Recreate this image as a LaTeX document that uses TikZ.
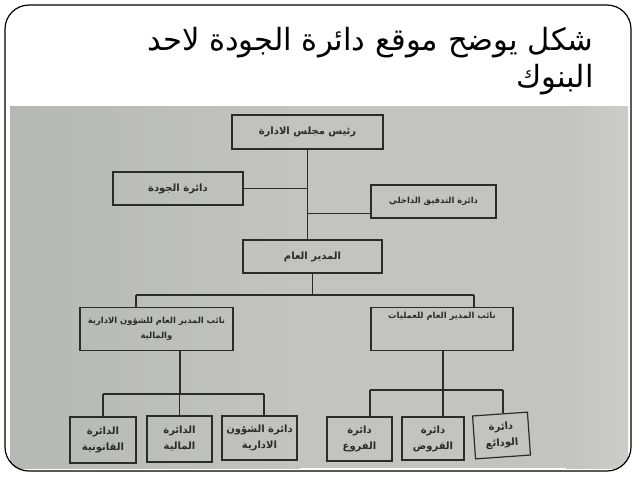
\documentclass[tikz,border=0pt]{standalone}
\usepackage{fontspec}
\setmainfont{DejaVu Sans}
\newfontfamily\arabicfont[Script=Arabic]{DejaVu Sans}
\TeXXeTstate=1
\definecolor{paper}{HTML}{C3C4C0}
\definecolor{paperlight}{HTML}{CCCDC9}
\definecolor{paperdark}{HTML}{B6B8B4}
\definecolor{ink}{HTML}{2B2B2B}
\tikzset{
	orgbox/.style={draw=ink, line width=0.6pt, inner sep=1pt, align=center,
		font=\arabicfont\bfseries\fontsize{5}{8}\selectfont, text=ink},
	smalltext/.style={font=\arabicfont\bfseries\fontsize{4.2}{7.5}\selectfont},
	orgline/.style={draw=ink, line width=0.6pt},
}
\newcommand{\ar}[1]{\beginR #1\endR}

\begin{document}
\begin{tikzpicture}[x=0.5pt, y=-0.5pt]
	%%%%% FRAME AND PHOTO %%%%%
	\useasboundingbox (0,0) rectangle (638,479);
	\fill[white] (0,0) rectangle (638,479);
	
	\begin{scope}
		\clip[rounded corners=12pt] (5,5) rectangle (631,471);
		\shade[left color=paperdark, right color=paper] (10,106) rectangle (300,468);
		\fill[paper] (299,106) rectangle (566,468);
		\shade[left color=paper, right color=paperlight] (566,106) rectangle (628,468);
	\end{scope}
	\draw[line width=0.6pt, rounded corners=12pt] (5,5) rectangle (631,471);
	
	%%%%% TITLE %%%%%
	\node[anchor=north east, align=right, inner sep=0pt,
		font=\arabicfont\fontsize{15.3}{18.2}\selectfont] (title) at (594,27)
		{\ar{شكل يوضح موقع دائرة الجودة لاحد}\\\ar{البنوك}};
	
	%%%%% BOXES %%%%%
	\node[orgbox, minimum width=75.5pt, minimum height=17pt] (board) at (307.5,132) {\ar{رئيس مجلس الادارة}};
	\node[orgbox, minimum width=65pt, minimum height=16.5pt] (quality) at (178,188.5) {\ar{دائرة الجودة}};
	\node[orgbox, smalltext, minimum width=62.5pt, minimum height=16.5pt] (audit) at (433.5,201.5) {\ar{دائرة التدقيق الداخلي}};
	\node[orgbox, minimum width=69.5pt, minimum height=16.5pt] (gm) at (312.5,256.5) {\ar{المدير العام}};
	
	\node[orgbox, smalltext, minimum width=76.5pt, minimum height=21.5pt, anchor=north] (depadmin) at (156.5,307)
		{\ar{نائب المدير العام للشؤون الادارية}\\\ar{والمالية}};
	\node[orgbox, smalltext, minimum width=71pt, minimum height=21.5pt, anchor=north] (depops) at (442,307)
		{\ar{نائب المدير العام للعمليات}\\[6pt]};
	
	\node[orgbox, minimum width=33pt, minimum height=23pt] (legal) at (103,440) {\ar{الدائرة}\\\ar{القانونية}};
	\node[orgbox, minimum width=32.5pt, minimum height=23pt] (finance) at (179.5,439) {\ar{الدائرة}\\\ar{المالية}};
	\node[orgbox, minimum width=37.5pt, minimum height=22pt] (adminaff) at (259.5,438) {\ar{دائرة الشؤون}\\\ar{الادارية}};
	\node[orgbox, minimum width=32.5pt, minimum height=22pt] (branches) at (359.5,439) {\ar{دائرة}\\\ar{الفروع}};
	\node[orgbox, minimum width=31pt, minimum height=21.5pt] (loans) at (433,438.5) {\ar{دائرة}\\\ar{القروض}};
	\node[orgbox, minimum width=27.5pt, minimum height=21.5pt, rotate=4] (deposits) at (501.5,435.5) {\ar{دائرة}\\\ar{الودائع}};
	
	%%%%% CONNECTORS %%%%%
	\coordinate (busL) at (136,295);
	\coordinate (busR) at (474,295);
	\coordinate (dropL) at (180,394);
	\coordinate (dropR) at (443,390);
	\coordinate (legtap) at (103,394);
	\coordinate (afftap) at (264,394);
	\coordinate (brtap) at (370,390);
	\coordinate (deptap) at (503,390);
	
	\draw[orgline] (board.south) -- (board.south |- gm.north);
	\draw[orgline] (quality.east) -- (quality.east -| board.south);
	\draw[orgline] ([yshift=2.5pt]audit.south west) -- ([yshift=2.5pt]audit.south west -| board.south);
	
	\draw[orgline] (gm.south) -- (gm.south |- busL);
	\draw[orgline] (busL) -- (busR);
	\draw[orgline] (busL) -- (busL |- depadmin.north);
	\draw[orgline] (busR) -- (busR |- depops.north);
	
	\draw[orgline] (dropL |- depadmin.south) -- (dropL);
	\draw[orgline] (legtap) -- (afftap);
	\draw[orgline] (legtap) -- (legal.north);
	\draw[orgline] (finance.north |- dropL) -- (finance.north);
	\draw[orgline] (afftap) -- (afftap |- adminaff.north);
	
	\draw[orgline] (dropR |- depops.south) -- (dropR);
	\draw[orgline] (brtap) -- (deptap);
	\draw[orgline] (brtap) -- (brtap |- branches.north);
	\draw[orgline] (dropR) -- (dropR |- loans.north);
	\draw[orgline] (deptap) -- (deptap |- deposits.north);
	
\end{tikzpicture}
\end{document}
